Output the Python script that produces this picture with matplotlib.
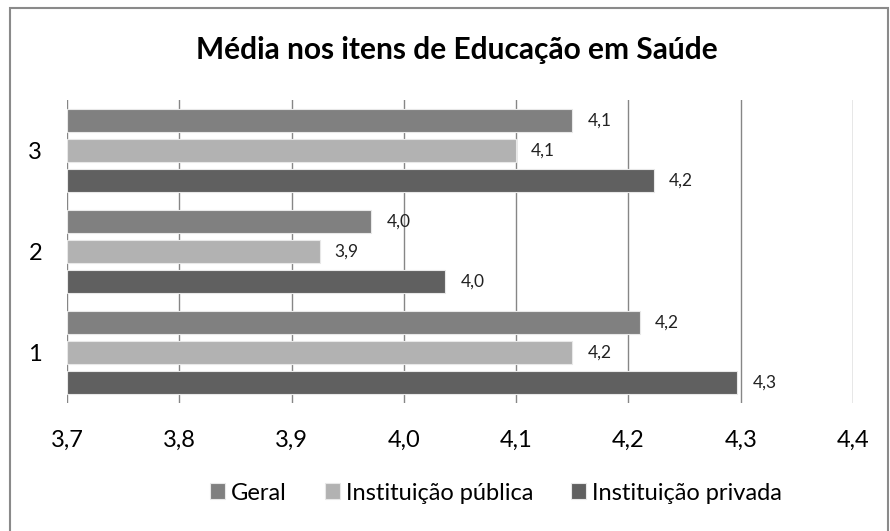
import matplotlib
matplotlib.use("Agg")
import matplotlib.pyplot as plt
from matplotlib.patches import Rectangle
import numpy as np

plt.rcParams['font.family'] = ['Lato', 'DejaVu Sans']

categories = ["1", "2", "3"]
series_names = ["Geral", "Instituição pública", "Instituição privada"]
geral = [4.210, 3.971, 4.150]
publica = [4.150, 3.925, 4.100]
privada = [4.297, 4.037, 4.223]
value_labels = {
    "Geral": ["4,2", "4,0", "4,1"],
    "Instituição pública": ["4,2", "3,9", "4,1"],
    "Instituição privada": ["4,3", "4,0", "4,2"],
}
xticks = [3.7, 3.8, 3.9, 4.0, 4.1, 4.2, 4.3, 4.4]
xtick_labels = ["3,7", "3,8", "3,9", "4,0", "4,1", "4,2", "4,3", "4,4"]
title = "Média nos itens de Educação em Saúde"

colors = ["#808080", "#b2b2b2", "#606060"]
offsets = [0.297, 0.0, -0.297]
bar_h = 0.228
xmin = 3.7

fig = plt.figure(figsize=(8.9, 5.31), dpi=100)
ax = fig.add_axes([67/890, 1-403/531, 786/890, 303/531])

ypos = np.arange(1, len(categories) + 1)
for name, vals, col, off in zip(series_names, [geral, publica, privada], colors, offsets):
    widths = [v - xmin for v in vals]
    bars = ax.barh(ypos + off, widths, left=xmin, height=bar_h, color=col,
                   edgecolor="#e8e8e8", linewidth=0.8, label=name, zorder=3)
    for b, lab in zip(bars, value_labels[name]):
        ax.annotate(lab, (b.get_x() + b.get_width(), b.get_y() + b.get_height()/2),
                    xytext=(15, 0), textcoords="offset pixels",
                    va="center", ha="left", fontsize=12.5, color="#222222")

ax.set_xlim(3.7, 4.4)
ax.set_ylim(0.5, 3.5)
ax.set_xticks(xticks)
ax.set_xticklabels(xtick_labels, fontsize=17)
ax.set_yticks(ypos)
ax.set_yticklabels(categories, fontsize=17)
ax.tick_params(axis="x", length=0, pad=19)
ax.tick_params(axis="y", length=0, pad=18)
ax.grid(axis="x", color="#868686", linewidth=1, zorder=0)
for s in ax.spines.values():
    s.set_visible(False)

fig.text(457/890, 1-50/531, title, ha="center", va="center", fontsize=21.5, fontweight="bold")

fig.legend(loc="center", bbox_to_anchor=(496/890, 1-493/531), ncol=3, frameon=False,
           fontsize=17, handlelength=0.65, handleheight=0.65, handletextpad=0.25,
           columnspacing=1.6)

fig.patches.append(Rectangle((10/890, -0.01), 878/890, 1-8/531+0.01, transform=fig.transFigure,
                             fill=False, edgecolor="#8a8a8a", linewidth=1.5))

fig.savefig("out.png", dpi=100)
